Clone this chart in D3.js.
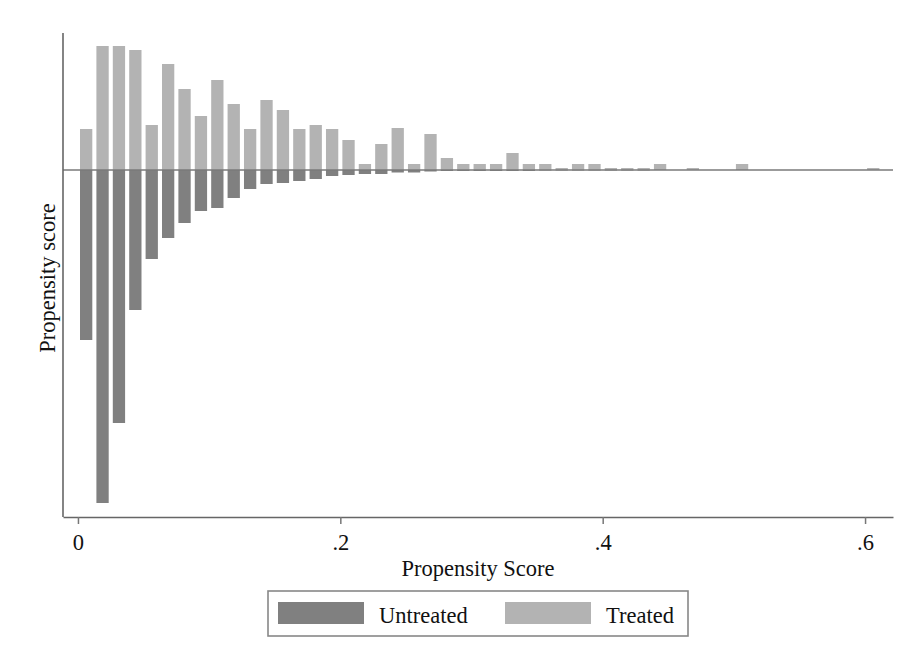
<!DOCTYPE html>
<html>
<head>
<meta charset="utf-8">
<script src="https://cdn.jsdelivr.net/npm/d3@7"></script>
<style>
  body { margin: 0; background: #fff; }
  text { font-family: "Liberation Serif", "DejaVu Serif", serif; fill: #111; }
</style>
</head>
<body>
<div class="svgcontainer"></div>
<script>
// histogram bins of the propensity score, width .0125 starting at 0
const binWidth = 0.0125;
// bar heights (density, arbitrary units)
const treated = [
  4.1, 12.4, 12.4, 12.0, 4.5, 10.6, 8.1, 5.4, 9.0, 6.6,
  4.1, 7.0, 6.0, 4.1, 4.5, 4.1, 3.0, 0.6, 2.6, 4.2,
  0.6, 3.6, 1.2, 0.6, 0.6, 0.6, 1.7, 0.6, 0.6, 0.2,
  0.6, 0.6, 0.2, 0.2, 0.2, 0.6, 0, 0.2, 0, 0,
  0.6, 0, 0, 0, 0, 0, 0, 0, 0.2
];
const untreated = [
  17.0, 33.3, 25.3, 14.0, 8.9, 6.8, 5.3, 4.1, 3.8, 2.8,
  1.9, 1.4, 1.3, 1.1, 0.9, 0.6, 0.5, 0.4, 0.4, 0.25,
  0.25, 0.15, 0.1, 0.1, 0.1, 0.1, 0.1, 0.1, 0.05, 0.05,
  0.05, 0.05, 0.05, 0.05, 0.05, 0, 0, 0, 0, 0,
  0, 0, 0, 0, 0, 0, 0, 0, 0
];
const xTicks = [0, 0.2, 0.4, 0.6];
const xTickLabels = ["0", ".2", ".4", ".6"];
const legendLabels = ["Untreated", "Treated"];
const colors = { untreated: "#808080", treated: "#b3b3b3" };

const width = 906, height = 662;
const plot = { left: 63, right: 893, top: 33, bottom: 517 };

const svg = d3.select('.svgcontainer')
  .append('svg')
  .attr('width', width)
  .attr('height', height);

const x = d3.scaleLinear().domain([-0.0114, 0.6213]).range([plot.left, plot.right]);
const y = d3.scaleLinear().domain([13.7, -34.7]).range([plot.top, plot.bottom]);

const barW = x(binWidth * 0.75) - x(0);
const bins = treated.map((t, i) => ({ i, t, u: untreated[i], mid: (i + 0.5) * binWidth }));

// treated bars go up
svg.selectAll('.treated')
  .data(bins.filter(d => d.t > 0))
  .enter()
  .append('rect')
  .attr('class', 'treated')
  .attr('x', d => x(d.mid) - barW / 2)
  .attr('width', barW)
  .attr('y', d => y(d.t))
  .attr('height', d => y(0) - y(d.t))
  .attr('fill', colors.treated);

// untreated bars go down
svg.selectAll('.untreated')
  .data(bins.filter(d => d.u > 0))
  .enter()
  .append('rect')
  .attr('class', 'untreated')
  .attr('x', d => x(d.mid) - barW / 2)
  .attr('width', barW)
  .attr('y', y(0))
  .attr('height', d => y(-d.u) - y(0))
  .attr('fill', colors.untreated);

// zero line
svg.append('line')
  .attr('x1', plot.left).attr('x2', plot.right)
  .attr('y1', y(0)).attr('y2', y(0))
  .attr('stroke', '#7a7a7a')
  .attr('stroke-width', 1.6);

// x axis
const xAxis = svg.append('g')
  .attr('transform', `translate(0, ${plot.bottom})`)
  .call(d3.axisBottom(x).tickValues(xTicks)
    .tickFormat((d, i) => xTickLabels[i])
    .tickSize(7).tickPadding(10).tickSizeOuter(0));
xAxis.select('.domain').attr('stroke', '#666').attr('stroke-width', 1.6);
xAxis.selectAll('.tick line').attr('stroke', '#777').attr('stroke-width', 1.5);
xAxis.selectAll('.tick text')
  .attr('font-size', 22.5)
  .style('font-family', '"Liberation Serif", serif')
  .attr('fill', '#111');

// y axis, no ticks
svg.append('line')
  .attr('x1', plot.left).attr('x2', plot.left)
  .attr('y1', plot.top).attr('y2', plot.bottom)
  .attr('stroke', '#666')
  .attr('stroke-width', 1.6);

// axis titles
svg.append('text')
  .attr('x', 478).attr('y', 576)
  .attr('text-anchor', 'middle')
  .attr('font-size', 22.5)
  .text('Propensity Score');

svg.append('text')
  .attr('transform', 'translate(55, 278) rotate(-90)')
  .attr('text-anchor', 'middle')
  .attr('font-size', 22.5)
  .text('Propensity score');

// legend
const legend = svg.append('g');
legend.append('rect')
  .attr('x', 268).attr('y', 591)
  .attr('width', 420).attr('height', 45)
  .attr('fill', '#fff')
  .attr('stroke', '#888')
  .attr('stroke-width', 1.6);

const items = [
  { label: legendLabels[0], color: colors.untreated, sx: 278, tx: 379 },
  { label: legendLabels[1], color: colors.treated, sx: 505, tx: 606 }
];
legend.selectAll('.sw')
  .data(items)
  .enter()
  .append('rect')
  .attr('x', d => d.sx).attr('y', 602)
  .attr('width', 86).attr('height', 22)
  .attr('fill', d => d.color);
legend.selectAll('.lt')
  .data(items)
  .enter()
  .append('text')
  .attr('x', d => d.tx).attr('y', 623)
  .attr('font-size', 22.5)
  .text(d => d.label);
</script>
</body>
</html>
